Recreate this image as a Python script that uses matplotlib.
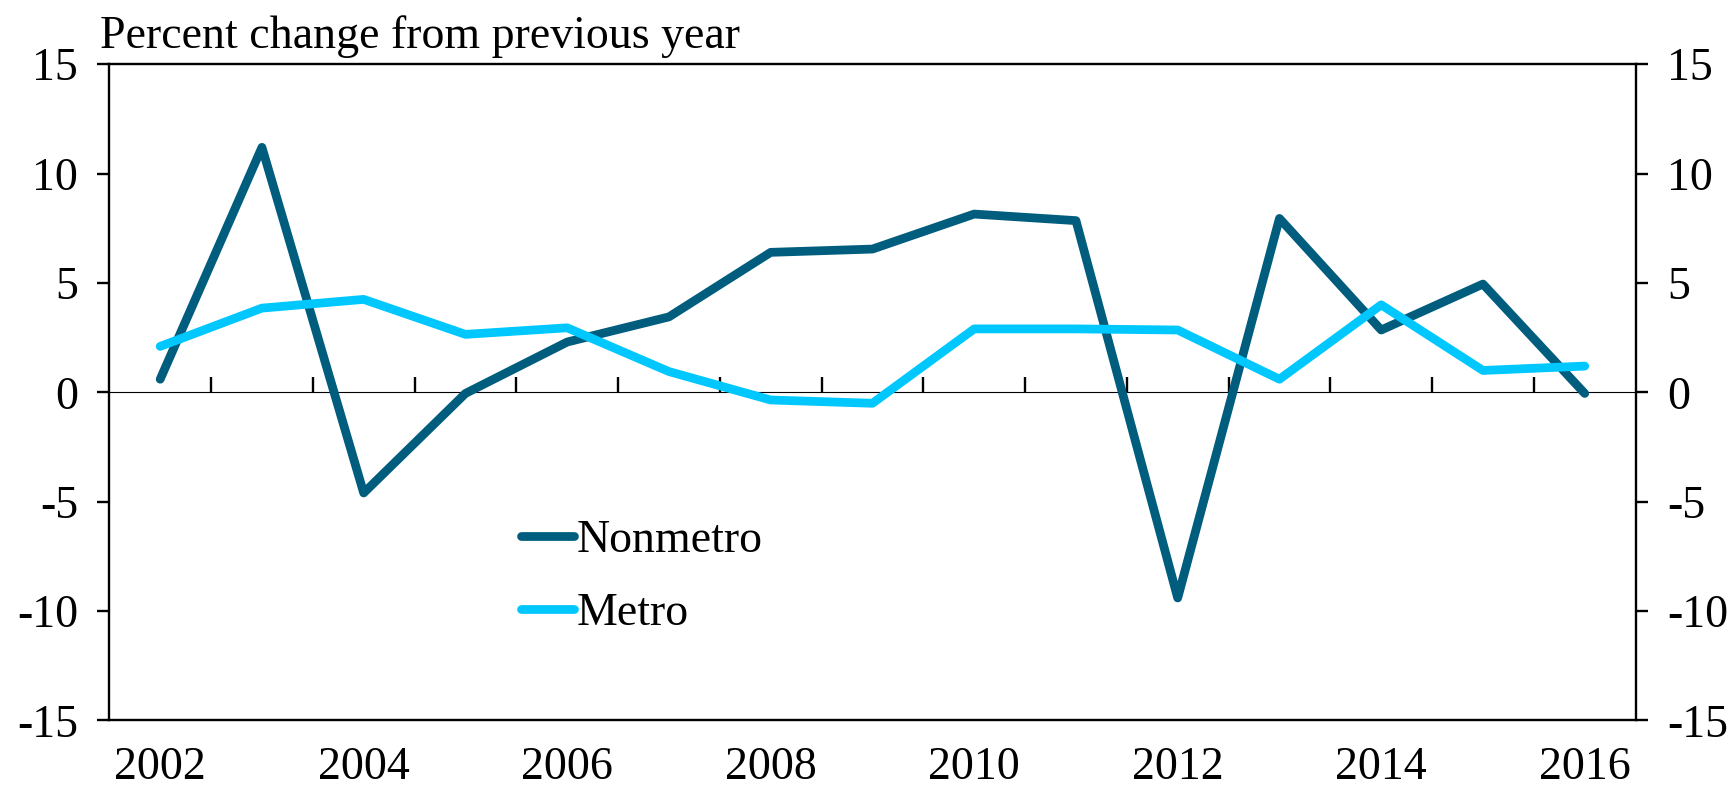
import numpy as np
import matplotlib
matplotlib.use("Agg")
import matplotlib.pyplot as plt

plt.rcParams['font.family'] = ['Liberation Serif', 'DejaVu Serif']
plt.rcParams['axes.unicode_minus'] = False

# data
years = [2002, 2003, 2004, 2005, 2006, 2007, 2008, 2009, 2010, 2011, 2012, 2013, 2014, 2015, 2016]
nonmetro = [0.6, 11.2, -4.6, -0.05, 2.3, 3.45, 6.4, 6.55, 8.15, 7.85, -9.4, 7.95, 2.85, 4.95, -0.05]
metro = [2.1, 3.85, 4.25, 2.65, 2.95, 0.95, -0.35, -0.5, 2.9, 2.9, 2.85, 0.6, 4.0, 1.0, 1.2]
yticks = [-15, -10, -5, 0, 5, 10, 15]

nonmetro_color = '#005D7D'
metro_color = '#00C8FF'
fs = 33

fig = plt.figure(figsize=(17.35, 7.93), dpi=100)
ax = fig.add_axes([0.063, 0.0915, 0.8797, 0.8275])

x = np.arange(len(years))
ax.plot(x, nonmetro, color=nonmetro_color, lw=6.3, solid_capstyle='round', label='Nonmetro')
ax.plot(x, metro, color=metro_color, lw=6.3, solid_capstyle='round', label='Metro')

ax.set_xlim(-0.5, len(years) - 0.5)
ax.set_ylim(-15, 15)

# year labels every other year, no tick marks
ax.set_xticks(x[::2])
ax.set_xticklabels([str(y) for y in years[::2]])
ax.tick_params(axis='x', length=0, pad=19, labelsize=fs)

# y ticks on both sides
ax.set_yticks(yticks)
ax.tick_params(axis='y', direction='out', length=8.5, width=1.7, labelsize=fs,
               right=True, labelright=True)
ax.tick_params(axis='y', which='major', pad=14)

for sp in ax.spines.values():
    sp.set_linewidth(1.7)

# zero line with category-boundary ticks
sec = ax.secondary_xaxis(0.5)
sec.spines['bottom'].set_linewidth(1.8)
sec.set_xticks(x[:-1] + 0.5)
sec.set_xticklabels([])
sec.tick_params(direction='out', length=11, width=1.7)

ax.text(-0.006, 1.01, 'Percent change from previous year', transform=ax.transAxes,
        ha='left', va='bottom', fontsize=fs)

ax.legend(loc='center left', bbox_to_anchor=(0.27, 0.218), frameon=False, fontsize=fs,
          handlelength=1.15, handletextpad=0.05, labelspacing=0.65, borderpad=0, borderaxespad=0)

fig.savefig('out.png', dpi=100)
